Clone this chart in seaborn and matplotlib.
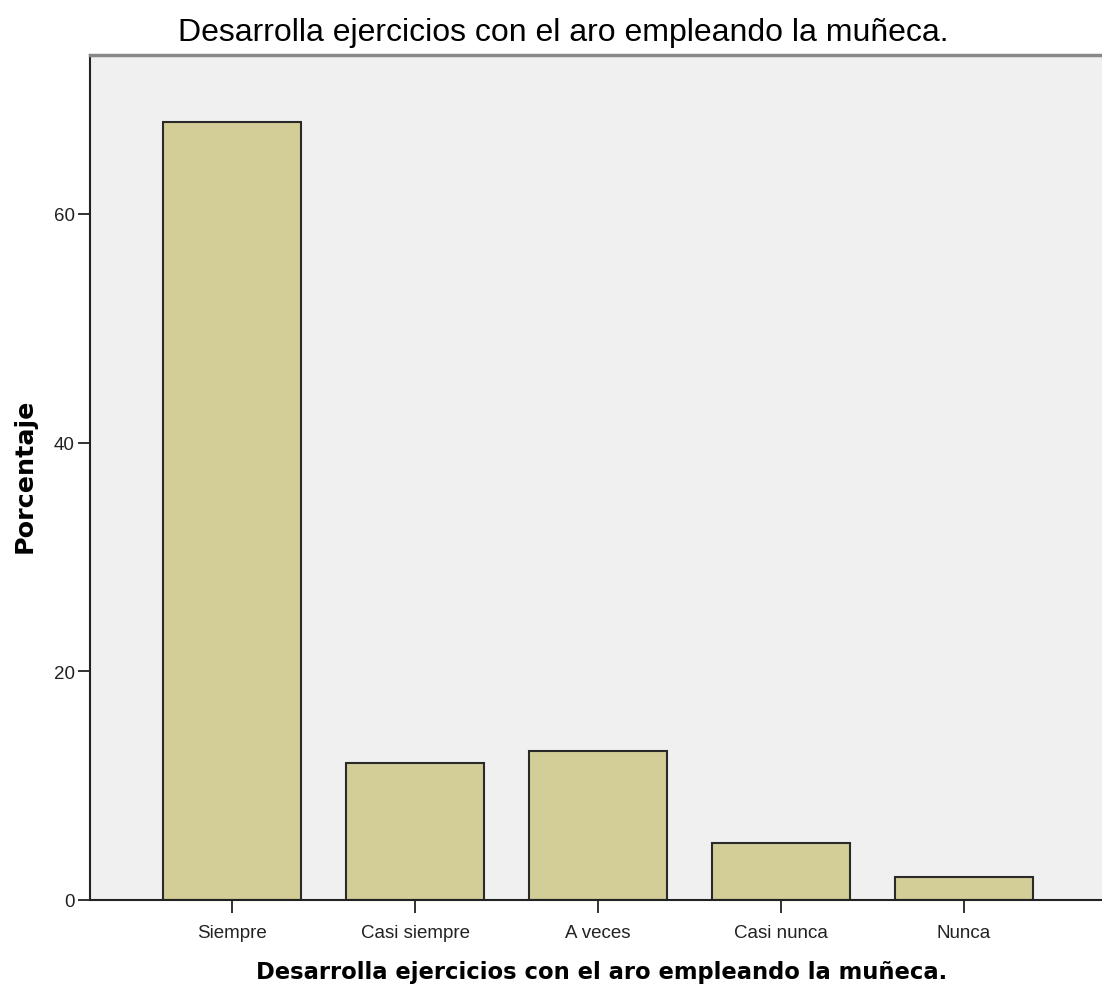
import matplotlib
matplotlib.use('Agg')
import matplotlib.pyplot as plt
import pandas as pd
import seaborn as sns

# Data
categories = ['Siempre', 'Casi siempre', 'A veces', 'Casi nunca', 'Nunca']
percentages = [68, 12, 13, 5, 2]
title = 'Desarrolla ejercicios con el aro empleando la muñeca.'

df = pd.DataFrame({'cat': categories, 'pct': percentages})

sns.set_style('white')
plt.rcParams['font.family'] = ['Liberation Sans', 'DejaVu Sans']

fig = plt.figure(figsize=(11.02, 9.95), dpi=100)
ax = fig.add_axes([0.0817, 0.0945, 0.9283, 0.8492])
ax.set_facecolor('#F0F0F0')

sns.barplot(data=df, x='cat', y='pct', order=categories, color='#D3CE97',
            edgecolor='#2a2a2a', linewidth=1.5, width=0.75, saturation=1, ax=ax)

ax.set_xlim(-0.776, 4.814)
ax.set_ylim(0, 73.9)
ax.set_yticks([0, 20, 40, 60])

for side in ['left', 'bottom']:
    ax.spines[side].set_color('#222222')
    ax.spines[side].set_linewidth(1.5)
ax.spines['top'].set_color('#888888')
ax.spines['top'].set_linewidth(2.5)
ax.spines['right'].set_visible(False)

ax.tick_params(axis='both', direction='out', length=9, width=1.3, color='#222222',
               labelsize=13.5, labelcolor='#222222', left=True, bottom=True)
ax.tick_params(axis='y', pad=2)
ax.tick_params(axis='x', pad=8)

ax.set_xlabel(title, fontsize=16.3, fontweight='bold', family=['DejaVu Sans'],
              color='black', labelpad=14)
ax.set_ylabel('Porcentaje', fontsize=18.3, fontweight='bold', family=['DejaVu Sans'],
              color='black', labelpad=20)
ax.yaxis.set_label_coords(-0.052, 0.503)
fig.text(0.511, 0.982, title, ha='center', va='top', fontsize=23, color='black')

fig.savefig('out.png', dpi=100)
